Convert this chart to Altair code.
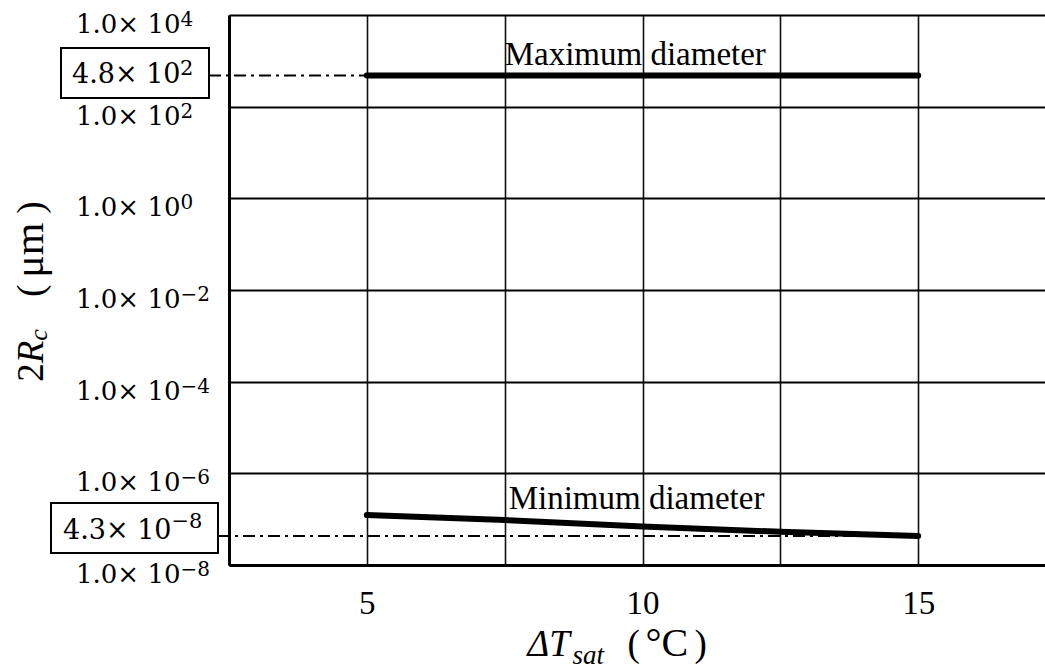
import altair as alt
import pandas as pd

# ---- data ----
dT = [5, 7.5, 10, 12.5, 15]
d_max = [4.8e2, 4.8e2, 4.8e2, 4.8e2, 4.8e2]
d_min = [1.23e-7, 9.6e-8, 6.9e-8, 5.3e-8, 4.3e-8]

x_ticks = [2.5, 5, 7.5, 10, 12.5, 15]
y_ticks = [1e4, 1e2, 1e0, 1e-2, 1e-4, 1e-6, 1e-8]
y_mant = ["1.0× 10", "1.0× 10", "1.0× 10", "1.0× 10", "1.0× 10", "1.0× 10", "1.0× 10"]
y_exp = ["4", "2", "0", "−2", "−4", "−6", "−8"]

max_val, max_mant, max_exp = 4.8e2, "4.8× 10", "2"
min_val, min_mant, min_exp = 4.3e-8, "4.3× 10", "−8"

SERIF = "Liberation Serif"
MATH = "DejaVu Serif"

one = pd.DataFrame({"k": [0]})

xs = alt.Scale(domain=[2.5, 17.3], nice=False, zero=False)
ys = alt.Scale(type="log", domain=[1e-8, 1e4], nice=False)

x_axis = alt.Axis(values=x_ticks,
                  labelExpr="datum.value % 5 == 0 ? format(datum.value, 'd') : ''",
                  grid=True, gridColor="#111", gridWidth=1.6, ticks=False, tickSize=0,
                  domain=True, domainColor="#000", domainWidth=3,
                  labelFont=SERIF, labelFontSize=33, labelColor="#000",
                  labelPadding=22, labelFlush=False, labelBaseline="top")
y_axis = alt.Axis(values=y_ticks, labels=False, grid=True, gridColor="#000", gridWidth=2.2,
                  ticks=False, tickSize=0, domain=True, domainColor="#000", domainWidth=3)

curves = pd.DataFrame({
    "dT": dT + dT,
    "d": d_max + d_min,
    "s": ["max"] * len(dT) + ["min"] * len(dT),
})

lines = alt.Chart(curves).mark_line(color="#000", strokeWidth=6, strokeCap="round").encode(
    x=alt.X("dT:Q", scale=xs, axis=x_axis, title=None),
    y=alt.Y("d:Q", scale=ys, axis=y_axis, title=None),
    detail="s:N",
)

def X(v):
    return alt.X(datum=v, type="quantitative", title=None)

def Y(v):
    return alt.Y(datum=v, type="quantitative", title=None)

dash = [12, 5, 3, 5]
rule_max = alt.Chart(one).mark_rule(color="#000", strokeWidth=2, strokeDash=dash, xOffset=-20).encode(
    x=X(2.5), x2=alt.X2(datum=5), y=Y(max_val))
rule_min = alt.Chart(one).mark_rule(color="#000", strokeWidth=2, strokeDash=dash, xOffset=-11).encode(
    x=X(2.5), x2=alt.X2(datum=15), y=Y(min_val))

box_max = alt.Chart(one).mark_rect(fill="white", stroke="#000", strokeWidth=2,
                                    xOffset=-168, x2Offset=-20, yOffset=-27.5, y2Offset=22.5).encode(
    x=X(2.5), x2=alt.X2(datum=2.5), y=Y(max_val), y2=alt.Y2(datum=max_val))
box_min = alt.Chart(one).mark_rect(fill="white", stroke="#000", strokeWidth=2,
                                    xOffset=-178, x2Offset=-11, yOffset=-33, y2Offset=17).encode(
    x=X(2.5), x2=alt.X2(datum=2.5), y=Y(min_val), y2=alt.Y2(datum=min_val))

def txt(s, xv, yv, size, font, xo, yo, style="normal", angle=0):
    return alt.Chart(one).mark_text(text=s, font=font, fontSize=size, fontStyle=style, color="#000",
                                    align="left", baseline="alphabetic", angle=angle,
                                    xOffset=xo, yOffset=yo).encode(x=X(xv), y=Y(yv))

box_texts = [
    txt(max_mant, 2.5, max_val, 27, MATH, -157, 8),
    txt(max_exp, 2.5, max_val, 21, MATH, -49, 0),
    txt(min_mant, 2.5, min_val, 27, MATH, -166, 3.5),
    txt(min_exp, 2.5, min_val, 21, MATH, -57.5, -7.5),
]

ylab = pd.DataFrame({"v": y_ticks, "m": y_mant, "e": y_exp})
ylab_m = alt.Chart(ylab).mark_text(font=MATH, fontSize=26, color="#000", align="left",
                                   baseline="alphabetic", xOffset=-153, yOffset=18).encode(
    x=X(2.5), y=alt.Y("v:Q", title=None), text="m:N")
ylab_e = alt.Chart(ylab).mark_text(font=MATH, fontSize=20, color="#000", align="left",
                                   baseline="alphabetic", xOffset=-48.5, yOffset=11).encode(
    x=X(2.5), y=alt.Y("v:Q", title=None), text="e:N")

annots = [
    txt("Maximum diameter", 7.5, max_val, 33, SERIF, 0, -10),
    txt("Minimum diameter", 7.5, min_val, 33, SERIF, 4, -27),
]

# x-axis title: ΔT_sat （°C）
xtitle = [
    txt("ΔT", 10, 1e-8, 37, SERIF, -115, 91, style="italic"),
    txt("sat", 10, 1e-8, 27, SERIF, -70, 99, style="italic"),
    txt("(", 10, 1e-8, 37, SERIF, -15, 91),
    txt("°C", 10, 1e-8, 40, SERIF, 3, 91),
    txt(")", 10, 1e-8, 37, SERIF, 52, 91),
]
# y-axis title: 2R_c （μm）, rotated
ytitle = [
    txt("2", 2.5, 1e-4, 37, SERIF, -186, 0, angle=270),
    txt("R", 2.5, 1e-4, 37, SERIF, -186, -18.5, style="italic", angle=270),
    txt("c", 2.5, 1e-4, 26, SERIF, -182, -41, style="italic", angle=270),
    txt("(", 2.5, 1e-4, 37, SERIF, -186, -85, angle=270),
    txt("μm", 2.5, 1e-4, 42, SERIF, -186, -104, angle=270),
    txt(")", 2.5, 1e-4, 37, SERIF, -186, -168, angle=270),
]

chart = alt.layer(
    lines, rule_max, rule_min, box_max, box_min, ylab_m, ylab_e,
    *box_texts, *annots, *xtitle, *ytitle,
).properties(
    width=816, height=550,
    autosize=alt.AutoSizeParams(type="none"),
    padding={"left": 229, "top": 15, "right": 0, "bottom": 106},
    background="white",
).configure_view(stroke=None)

chart.save("out.html", embed_options={"renderer": "svg", "actions": False})
